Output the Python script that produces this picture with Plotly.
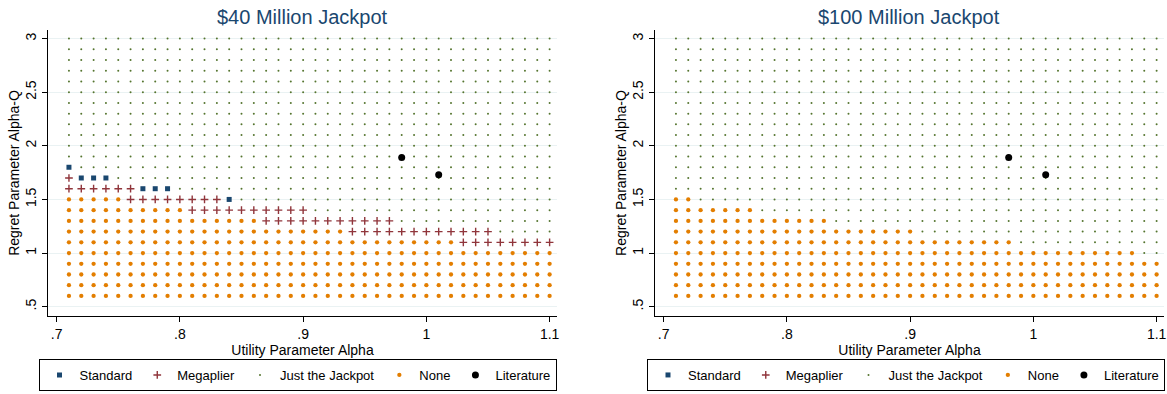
import plotly.graph_objects as go

# Parameter grid
alpha = [0.71, 0.72, 0.73, 0.74, 0.75, 0.76, 0.77, 0.78, 0.79, 0.80,
         0.81, 0.82, 0.83, 0.84, 0.85, 0.86, 0.87, 0.88, 0.89, 0.90,
         0.91, 0.92, 0.93, 0.94, 0.95, 0.96, 0.97, 0.98, 0.99, 1.00,
         1.01, 1.02, 1.03, 1.04, 1.05, 1.06, 1.07, 1.08, 1.09, 1.10]
alpha_q = [0.6, 0.7, 0.8, 0.9, 1.0, 1.1, 1.2, 1.3, 1.4, 1.5, 1.6, 1.7, 1.8,
           1.9, 2.0, 2.1, 2.2, 2.3, 2.4, 2.5, 2.6, 2.7, 2.8, 2.9, 3.0]

# $40 million jackpot: highest alpha-Q with no purchase, per alpha column
none_top_40 = [1.5, 1.5, 1.5, 1.5, 1.5, 1.4, 1.4, 1.4, 1.4, 1.4,
               1.3, 1.3, 1.3, 1.3, 1.3, 1.3, 1.2, 1.2, 1.2, 1.2,
               1.2, 1.2, 1.2, 1.1, 1.1, 1.1, 1.1, 1.1, 1.1, 1.1,
               1.1, 1.1, 1.0, 1.0, 1.0, 1.0, 1.0, 1.0, 1.0, 1.0]
# Megaplier region, row by row: alpha-Q and first/last alpha
mega_q_40 = [1.7, 1.6, 1.5, 1.4, 1.3, 1.2, 1.1]
mega_from_40 = [0.71, 0.71, 0.76, 0.81, 0.87, 0.94, 1.03]
mega_to_40 = [0.71, 0.76, 0.83, 0.90, 0.97, 1.05, 1.10]
# Standard ticket points
std_alpha_40 = [0.71, 0.72, 0.73, 0.74, 0.77, 0.78, 0.79, 0.84]
std_q_40 = [1.8, 1.7, 1.7, 1.7, 1.6, 1.6, 1.6, 1.5]

# $100 million jackpot
none_top_100 = [1.5, 1.5, 1.4, 1.4, 1.4, 1.4, 1.4, 1.3, 1.3, 1.3,
                1.3, 1.3, 1.3, 1.2, 1.2, 1.2, 1.2, 1.2, 1.2, 1.2,
                1.1, 1.1, 1.1, 1.1, 1.1, 1.1, 1.1, 1.1, 1.0, 1.0,
                1.0, 1.0, 1.0, 1.0, 1.0, 1.0, 1.0, 1.0, 0.9, 0.9]
mega_q_100 = []
mega_from_100 = []
mega_to_100 = []
std_alpha_100 = []
std_q_100 = []

# Estimates from the literature
lit_alpha = [0.98, 1.01]
lit_q = [1.89, 1.73]

NAVY = "#1a476f"
MAROON = "#90353b"
GREEN = "#55752f"
ORANGE = "#e37e00"
FONT = "Liberation Sans, Arial, sans-serif"
W, H = 1167, 394


def classify(none_top, mega_q, mega_from, mega_to, std_alpha, std_q):
    std = set(zip(std_alpha, std_q))
    mega = set()
    for q, a0, a1 in zip(mega_q, mega_from, mega_to):
        for a in alpha:
            if a0 - 1e-9 <= a <= a1 + 1e-9:
                mega.add((a, q))
    groups = {"Standard": [], "Megaplier": [], "Just the Jackpot": [], "None": []}
    for a, top in zip(alpha, none_top):
        for q in alpha_q:
            if (a, q) in std:
                groups["Standard"].append((a, q))
            elif (a, q) in mega:
                groups["Megaplier"].append((a, q))
            elif q <= top + 1e-9:
                groups["None"].append((a, q))
            else:
                groups["Just the Jackpot"].append((a, q))
    return groups


styles = {
    "Standard": dict(symbol="square", size=5, color=NAVY),
    "Megaplier": dict(symbol="cross-thin", size=5.5, color=MAROON,
                      line=dict(color=MAROON, width=1.4)),
    "Just the Jackpot": dict(symbol="circle", size=2, color=GREEN),
    "None": dict(symbol="circle", size=4.3, color=ORANGE),
}

panels = [
    ("$40 Million Jackpot",
     classify(none_top_40, mega_q_40, mega_from_40, mega_to_40, std_alpha_40, std_q_40),
     "x", "y", "legend"),
    ("$100 Million Jackpot",
     classify(none_top_100, mega_q_100, mega_from_100, mega_to_100, std_alpha_100, std_q_100),
     "x2", "y2", "legend2"),
]

fig = go.Figure()
for title, groups, xa, ya, leg in panels:
    for name in ["Standard", "Megaplier", "Just the Jackpot", "None"]:
        pts = groups[name]
        xs = [p[0] for p in pts] or [None]
        ys = [p[1] for p in pts] or [None]
        fig.add_trace(go.Scatter(
            x=xs, y=ys, mode="markers", name=name, marker=styles[name],
            xaxis=xa, yaxis=ya, legend=leg, hoverinfo="x+y+name"))
    fig.add_trace(go.Scatter(
        x=lit_alpha, y=lit_q, mode="markers", name="Literature",
        marker=dict(symbol="circle", size=7, color="black"),
        xaxis=xa, yaxis=ya, legend=leg))

x_dom = [[48 / W, 557 / W], [655 / W, 1164 / W]]
y_dom = [78 / H, 364 / H]

axis_x = dict(range=[0.693, 1.106], tickvals=[0.7, 0.8, 0.9, 1.0, 1.1],
              ticktext=[".7", ".8", ".9", "1", "1.1"], showgrid=False,
              zeroline=False, showline=True, linecolor="black", linewidth=1,
              ticks="outside", ticklen=5, tickcolor="black", automargin=False,
              tickfont=dict(size=14, color="black"),
              title=dict(text="Utility Parameter Alpha", standoff=2,
                         font=dict(size=14, color="black")))
axis_y = dict(range=[0.413, 3.08], tickvals=[0.5, 1, 1.5, 2, 2.5, 3],
              ticktext=[".5", "1", "1.5", "2", "2.5", "3"], tickangle=-90,
              showgrid=True, gridcolor="#eaf2f3", gridwidth=1,
              zeroline=False, showline=True, linecolor="black", linewidth=1,
              ticks="outside", ticklen=5, tickcolor="black", automargin=False,
              tickfont=dict(size=14, color="black"),
              title=dict(text="Regret Parameter Alpha-Q", standoff=0,
                         font=dict(size=14, color="black")))

legend_style = dict(orientation="h", xanchor="center", yanchor="bottom",
                    y=3 / H, bordercolor="black", borderwidth=1,
                    bgcolor="white", font=dict(size=13, color="black"),
                    itemsizing="trace", itemwidth=30)

fig.update_layout(
    template="none",
    width=W, height=H, autosize=False,
    margin=dict(l=0, r=0, t=0, b=0, pad=0),
    paper_bgcolor="white", plot_bgcolor="white",
    font=dict(family=FONT, color="black"),
    showlegend=True,
    xaxis=dict(domain=x_dom[0], anchor="y", **axis_x),
    yaxis=dict(domain=y_dom, anchor="x", **axis_y),
    xaxis2=dict(domain=x_dom[1], anchor="y2", **axis_x),
    yaxis2=dict(domain=y_dom, anchor="x2", **axis_y),
    legend=dict(x=297.5 / W, **legend_style),
    legend2=dict(x=906 / W, **legend_style),
    annotations=[
        dict(text=panels[0][0], x=sum(x_dom[0]) / 2, y=1.0 - 4 / H,
             xref="paper", yref="paper", xanchor="center", yanchor="top",
             showarrow=False, font=dict(size=20, color=NAVY)),
        dict(text=panels[1][0], x=sum(x_dom[1]) / 2, y=1.0 - 4 / H,
             xref="paper", yref="paper", xanchor="center", yanchor="top",
             showarrow=False, font=dict(size=20, color=NAVY)),
    ],
)

fig.write_html("out.html")
